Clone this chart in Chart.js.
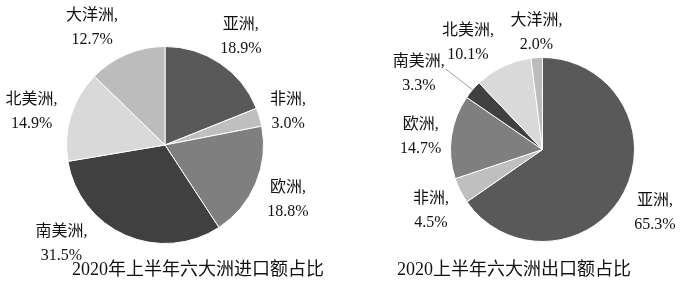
<!DOCTYPE html>
<html>
<head>
<meta charset="utf-8">
<script src="https://cdn.jsdelivr.net/npm/chart.js@4.4.0/dist/chart.umd.min.js"></script>
<style>
    html, body { margin: 0; padding: 0; background: #fff; }
    #wrap { position: relative; width: 680px; height: 286px; }
    canvas { position: absolute; top: 0; }
</style>
</head>
<body>
<div id="wrap">
    <canvas id="importChart" width="340" height="286" style="left:0"></canvas>
    <canvas id="exportChart" width="340" height="286" style="left:340px"></canvas>
</div>
<script>
// Data (percent share by continent, clockwise from 12 o'clock)
const continents = ["亚洲", "非洲", "欧洲", "南美洲", "北美洲", "大洋洲"];
const importShare = [18.9, 3.0, 18.8, 31.5, 14.9, 12.7];
const exportShare = [65.3, 4.5, 14.7, 3.3, 10.1, 2.0];
const importTitle = "2020年上半年六大洲进口额占比";
const exportTitle = "2020上半年六大洲出口额占比";

const sliceColors = ["#595959", "#bfbfbf", "#7f7f7f", "#404040", "#d9d9d9", "#bcbcbc"];
const FONT = '"Liberation Serif", "Noto Sans CJK SC", serif';

// Draws "name," / "value%" labels around the pie plus the chart title
const pieLabels = {
    id: "pieLabels",
    afterDatasetsDraw(chart, args, opts) {
        const ctx = chart.ctx;
        const meta = chart.getDatasetMeta(0);
        const values = chart.data.datasets[0].data;
        ctx.save();
        ctx.fillStyle = "#111";
        ctx.textAlign = "center";
        ctx.textBaseline = "middle";
        ctx.font = "16px " + FONT;
        meta.data.forEach((arc, i) => {
            const p = arc.getProps(["x", "y", "startAngle", "endAngle", "outerRadius"], true);
            const mid = (p.startAngle + p.endAngle) / 2;
            const R = p.outerRadius + opts.gap;
            const nudge = opts.nudges[i] || [0, 0];
            const lx = p.x + Math.cos(mid) * R + nudge[0];
            const ly = p.y + Math.sin(mid) * R + nudge[1];
            ctx.fillText(chart.data.labels[i] + ",", lx, ly - 12);
            ctx.fillText(values[i].toFixed(1) + "%", lx, ly + 12);
            if (opts.leader === i) {
                const ex = p.x + Math.cos(mid) * p.outerRadius;
                const ey = p.y + Math.sin(mid) * p.outerRadius;
                ctx.strokeStyle = "#a0a0a0";
                ctx.lineWidth = 1;
                ctx.beginPath();
                ctx.moveTo(lx + 27, ly - 5);
                ctx.lineTo(ex, ey);
                ctx.stroke();
            }
        });
        ctx.font = "18px " + FONT;
        ctx.fillText(opts.title, opts.titleX, 270);
        ctx.restore();
    }
};

function makePie(id, values, padding, labelOpts) {
    return new Chart(document.getElementById(id), {
        type: "pie",
        data: {
            labels: continents,
            datasets: [{
                data: values,
                backgroundColor: sliceColors,
                borderColor: "#ffffff",
                borderWidth: 1,
            }],
        },
        options: {
            responsive: false,
            animation: false,
            devicePixelRatio: 1,
            layout: { padding: padding },
            plugins: {
                legend: { display: false },
                tooltip: { enabled: false },
                pieLabels: labelOpts,
            },
        },
        plugins: [pieLabels],
    });
}

makePie("importChart", importShare,
    { left: 66, top: 46, right: 76, bottom: 42 },
    {
        gap: 35,
        nudges: [[1, 2], [-5, 5], [0, 3], [-50, -24], [-6, 7], [-21, 6]],
        leader: -1,
        title: importTitle,
        titleX: 198,
    });

makePie("exportChart", exportShare,
    { left: 110, top: 57, right: 45, bottom: 44 },
    {
        gap: 35,
        nudges: [[0, 4], [2, 4], [4, 5], [-27, 7], [-20, 8], [2, 10]],
        leader: 3,
        title: exportTitle,
        titleX: 174,
    });
</script>
</body>
</html>
